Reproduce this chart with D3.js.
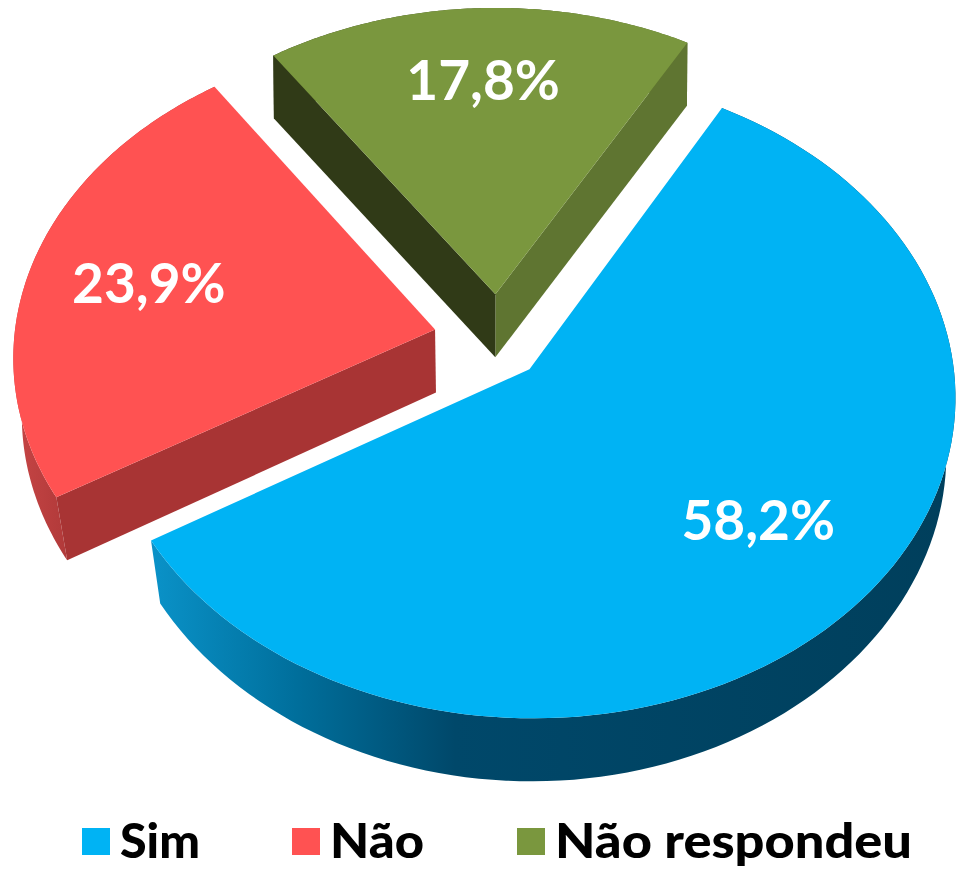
<!DOCTYPE html>
<html>
<head>
<meta charset="utf-8">
<script src="https://cdn.jsdelivr.net/npm/d3@7"></script>
<style>
  html, body { margin: 0; padding: 0; background: #fff; }
  svg { display: block; }
  text { font-family: Lato, "Open Sans", sans-serif; font-weight: 700; }
</style>
</head>
<body>
<div id="chart"></div>
<script>
// chart values
var categories = ["Sim", "Não", "Não respondeu"];
var values = [58.2, 23.9, 17.8];

// slice colours: top face, wall at start of slice, wall at end of slice
var topColors = ["#00b3f4", "#ff5252", "#7a973e"];
var startWalls = ["#005a80", "#a83434", "#303a17"];
var endWalls = ["#005a80", "#a83434", "#5f7531"];

var svgWidth = 962;
var svgHeight = 871;

// pie geometry, the plane of the pie is drawn in perspective
var firstAngle = 29.5 * Math.PI / 180;
var explode = 0.14;
var perspective = 0.08;
var depth = 63;
var bottomShrink = 0.00005;
var labelRadius = 0.7;

// small per slice corrections in px
var nudgeX = [-4, 1.5, 7];
var nudgeY = [0, 1, 0];
var labelDx = [6, -3, 0];
var labelDy = [-13, 0, -10];

var xscale = d3.scaleLinear().domain([-1, 1]).range([491 - 421, 491 + 421]);
var yscale = d3.scaleLinear().domain([-1, 1]).range([338 - 316, 338 + 316]);

var svg = d3.select("#chart")
    .append("svg")
    .attr("width", svgWidth)
    .attr("height", svgHeight);

// gradients for the round outside walls
var defs = svg.append("defs");
function addGradient(id, x1, x2, stops) {
    var g = defs.append("linearGradient")
        .attr("id", id)
        .attr("gradientUnits", "userSpaceOnUse")
        .attr("x1", x1).attr("x2", x2)
        .attr("y1", 0).attr("y2", 0);
    g.selectAll("stop")
        .data(stops)
        .enter()
        .append("stop")
        .attr("offset", d => d[0])
        .attr("stop-color", d => d[1]);
}
addGradient("wall0", 152, 950, [[0, "#0a92c8"], [0.18, "#006f9c"], [0.38, "#00486a"], [1, "#003f5c"]]);
addGradient("wall1", 20, 65, [[0, "#c44444"], [1, "#b23a3a"]]);
addGradient("wall2", 275, 690, [[0, "#303a17"], [1, "#5f7531"]]);

var pie = d3.pie()
    .sort(null)
    .startAngle(firstAngle)
    .endAngle(firstAngle + 2 * Math.PI);
var arcs = pie(values);

// plane point of a slice -> screen point
function project(d, angle, r) {
    var mid = (d.startAngle + d.endAngle) / 2;
    var u = r * Math.sin(angle) + explode * Math.sin(mid);
    var v = -r * Math.cos(angle) - explode * Math.cos(mid);
    var s = 1 / (1 - perspective * v);
    return [xscale(u * s) + nudgeX[d.index], yscale(v * s) + nudgeY[d.index]];
}

// same point on the lower edge of the pie, edges lean in more lower down
function lower(p) {
    var cx = xscale(0);
    return [cx + (p[0] - cx) * (1 - bottomShrink * p[1]), p[1] + depth];
}

var line = d3.line();

function arcPoints(d) {
    return d3.range(0, 121).map(i =>
        project(d, d.startAngle + (d.endAngle - d.startAngle) * i / 120, 1));
}

function cutWall(d, angle) {
    var a = project(d, 0, 0);
    var b = project(d, angle, 1);
    return line([a, b, lower(b), lower(a)]) + "Z";
}

// back slices first so the big one lies on top
var slices = svg.selectAll("g.slice")
    .data(arcs.slice().reverse())
    .enter()
    .append("g")
    .attr("class", "slice");

// round wall
slices.append("path")
    .attr("fill", d => "url(#wall" + d.index + ")")
    .attr("d", function (d) {
        var pts = arcPoints(d);
        return line(pts.concat(pts.slice().reverse().map(lower))) + "Z";
    });

// cut walls, only the ones turned to the viewer
slices.filter(d => Math.sin(d.endAngle) > 0)
    .append("path")
    .attr("fill", d => endWalls[d.index])
    .attr("d", d => cutWall(d, d.endAngle));
slices.filter(d => Math.sin(d.startAngle) < 0)
    .append("path")
    .attr("fill", d => startWalls[d.index])
    .attr("d", d => cutWall(d, d.startAngle));

// top face
slices.append("path")
    .attr("fill", d => topColors[d.index])
    .attr("d", function (d) {
        return line([project(d, 0, 0)].concat(arcPoints(d))) + "Z";
    });

// percent labels
slices.append("text")
    .attr("x", d => project(d, (d.startAngle + d.endAngle) / 2, labelRadius)[0] + labelDx[d.index])
    .attr("y", d => project(d, (d.startAngle + d.endAngle) / 2, labelRadius)[1] + 20 + labelDy[d.index])
    .attr("text-anchor", "middle")
    .attr("fill", "#fff")
    .style("font-size", "55px")
    .text(d => d.value.toFixed(1).replace(".", ",") + "%");

// legend
var legendX = d3.scaleOrdinal().domain(categories).range([82, 292, 517]);
var legendWidth = d3.scaleOrdinal().domain(categories).range([80, 94, 357]);
var legend = svg.selectAll("g.legend")
    .data(categories)
    .enter()
    .append("g")
    .attr("class", "legend")
    .attr("transform", d => `translate(${legendX(d)}, 828)`);

legend.append("rect")
    .attr("width", 28)
    .attr("height", 27)
    .attr("fill", (d, i) => topColors[i]);

legend.append("text")
    .attr("x", 38)
    .attr("y", 30)
    .attr("fill", "#000")
    .attr("textLength", d => legendWidth(d))
    .attr("lengthAdjust", "spacingAndGlyphs")
    .style("font-size", "48px")
    .style("font-weight", 900)
    .text(d => d);
</script>
</body>
</html>
